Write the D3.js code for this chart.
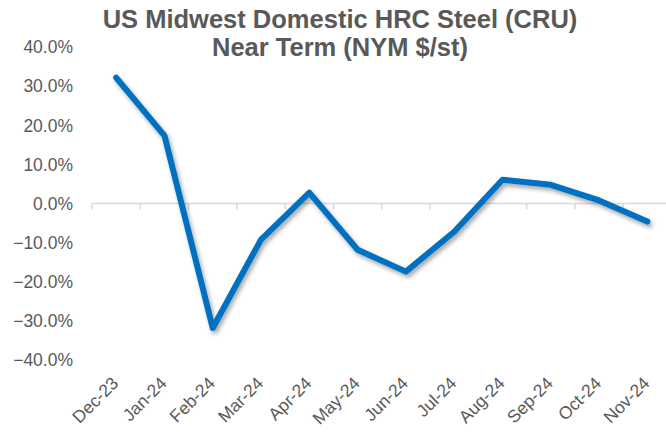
<!DOCTYPE html>
<html>
<head>
<meta charset="utf-8">
<script src="https://cdn.jsdelivr.net/npm/d3@7"></script>
<style>
  body { margin: 0; background: #fff; }
  svg { display: block; font-family: "Liberation Sans", Arial, sans-serif; }
</style>
</head>
<body>
<div id="chart"></div>
<script>
var months = ["Dec-23", "Jan-24", "Feb-24", "Mar-24", "Apr-24", "May-24",
              "Jun-24", "Jul-24", "Aug-24", "Sep-24", "Oct-24", "Nov-24"];
var changes = [0.322, 0.174, -0.318, -0.092, 0.028, -0.118,
               -0.174, -0.072, 0.061, 0.048, 0.008, -0.046];
var yTicks = [0.4, 0.3, 0.2, 0.1, 0, -0.1, -0.2, -0.3, -0.4];
var titleLines = ["US Midwest Domestic HRC Steel (CRU)", "Near Term (NYM $/st)"];

var width = 666, height = 438;
var textColor = "#595959";

var svg = d3.select("#chart").append("svg")
    .attr("width", width)
    .attr("height", height);

var x = d3.scaleBand().domain(months).range([92, 671.5]);
var y = d3.scaleLinear().domain([-0.4, 0.4]).range([360, 47.2]);

// drop shadow for the line
var filter = svg.append("defs").append("filter")
    .attr("id", "shadow")
    .attr("x", "-10%").attr("y", "-10%")
    .attr("width", "120%").attr("height", "130%");
filter.append("feDropShadow")
    .attr("dx", 2).attr("dy", 3)
    .attr("stdDeviation", 2)
    .attr("flood-color", "#000")
    .attr("flood-opacity", 0.35);

// title
svg.append("text")
    .attr("x", 340)
    .attr("y", 28)
    .attr("text-anchor", "middle")
    .style("font-size", "25.5px")
    .style("font-weight", "bold")
    .style("fill", textColor)
    .selectAll("tspan")
    .data(titleLines)
    .enter().append("tspan")
    .attr("x", 340)
    .attr("dy", function (d, i) { return i === 0 ? 0 : 28; })
    .text(function (d) { return d; });

// y axis labels
var yaxis = d3.axisLeft(y)
    .tickValues(yTicks)
    .tickSize(0)
    .tickPadding(0)
    .tickFormat(d3.format(".1%"));

var yg = svg.append("g")
    .attr("transform", "translate(73,0)")
    .call(yaxis);
yg.select(".domain").remove();
yg.selectAll("text")
    .style("font-size", "17.5px")
    .style("fill", textColor)
    .style("font-family", "Liberation Sans, Arial, sans-serif");

// zero line with ticks at category boundaries
var boundaries = months.map(function (m) { return x(m); });
svg.append("line")
    .attr("x1", x.range()[0])
    .attr("x2", x.range()[1])
    .attr("y1", y(0))
    .attr("y2", y(0))
    .style("stroke", "#d9d9d9")
    .style("stroke-width", 1.5);
svg.selectAll(".xtick")
    .data(boundaries)
    .enter().append("line")
    .attr("class", "xtick")
    .attr("x1", function (d) { return d; })
    .attr("x2", function (d) { return d; })
    .attr("y1", y(0))
    .attr("y2", y(0) + 6)
    .style("stroke", "#d9d9d9")
    .style("stroke-width", 1.5);

// x labels, rotated
svg.selectAll(".xlabel")
    .data(months)
    .enter().append("text")
    .attr("class", "xlabel")
    .attr("transform", function (d) {
        return "translate(" + (x(d) + x.bandwidth() / 2 - 1) + ",380) rotate(-45)";
    })
    .attr("text-anchor", "end")
    .attr("dy", "0.35em")
    .style("font-size", "17.5px")
    .style("fill", textColor)
    .text(function (d) { return d; });

// the line
var valueline = d3.line()
    .x(function (d, i) { return x(months[i]) + x.bandwidth() / 2; })
    .y(function (d) { return y(d); });

svg.append("path")
    .datum(changes)
    .attr("d", valueline)
    .attr("filter", "url(#shadow)")
    .style("fill", "none")
    .style("stroke", "#0070c0")
    .style("stroke-width", 6)
    .style("stroke-linejoin", "round")
    .style("stroke-linecap", "round");
</script>
</body>
</html>
